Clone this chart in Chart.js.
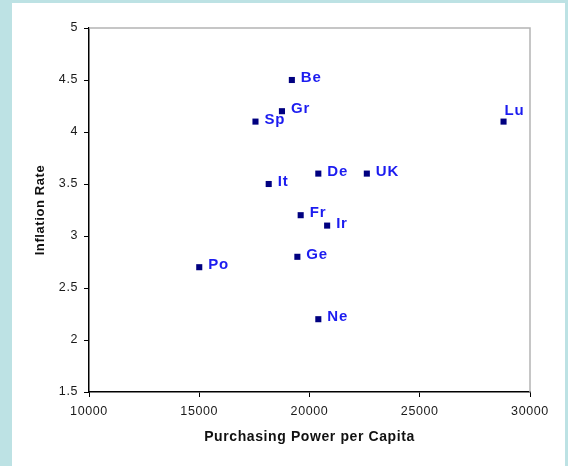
<!DOCTYPE html>
<html>
<head>
<meta charset="utf-8">
<script src="https://cdn.jsdelivr.net/npm/chart.js@4.4.1/dist/chart.umd.min.js"></script>
<style>
  html, body { margin: 0; padding: 0; }
  body { width: 568px; height: 466px; background: #bde2e4; position: relative; overflow: hidden; }
  #panel { position: absolute; left: 12px; top: 3px; width: 553px; height: 463px; background: #fff; }
  #wrap { position: absolute; left: 0; top: 0; width: 568px; height: 466px; }
</style>
</head>
<body>
<div id="panel"></div>
<div id="wrap"><canvas id="chart"></canvas></div>
<script>
// country codes and values
const countries = ["Be", "Gr", "Sp", "It", "De", "UK", "Fr", "Ir", "Ge", "Po", "Ne", "Lu"];
const power = [19200, 18750, 17550, 18150, 20400, 22600, 19600, 20800, 19450, 15000, 20400, 28800];
const inflation = [4.5, 4.2, 4.1, 3.5, 3.6, 3.6, 3.2, 3.1, 2.8, 2.7, 2.2, 4.1];
const xTicks = [10000, 15000, 20000, 25000, 30000];
const yTicks = [1.5, 2, 2.5, 3, 3.5, 4, 4.5, 5];

const points = power.map(function (p, i) { return { x: p, y: inflation[i] }; });

// the old excel text is a bit wide, add some letter spacing
const spacing = {
  id: "spacing",
  beforeLayout(chart) { chart.ctx.letterSpacing = "0.6px"; },
  beforeDraw(chart) { chart.ctx.letterSpacing = "0.6px"; }
};

// gray frame top/right
const frame = {
  id: "frame",
  beforeDatasetsDraw(chart) {
    const a = chart.chartArea;
    const ctx = chart.ctx;
    ctx.save();
    ctx.strokeStyle = "#b4b4b4";
    ctx.lineWidth = 1.5;
    ctx.beginPath();
    ctx.moveTo(a.left, a.top);
    ctx.lineTo(a.right, a.top);
    ctx.lineTo(a.right, a.bottom);
    ctx.stroke();
    ctx.restore();
  }
};

// country names next to the markers
const pointLabels = {
  id: "pointLabels",
  afterDatasetsDraw(chart) {
    const ctx = chart.ctx;
    const meta = chart.getDatasetMeta(0);
    ctx.save();
    ctx.letterSpacing = "0.8px";
    ctx.font = "bold 15px 'Liberation Sans', Arial, sans-serif";
    ctx.fillStyle = "#1c1cf0";
    ctx.textBaseline = "middle";
    meta.data.forEach(function (el, i) {
      let dx = 9, dy = -2;
      if (countries[i] === "Lu") { dx = 1; dy = -11; }
      ctx.fillText(countries[i], el.x + dx, el.y + dy);
    });
    ctx.restore();
  }
};

const fam = "'Liberation Sans', Arial, sans-serif";

new Chart(document.getElementById("chart"), {
  type: "scatter",
  data: {
    datasets: [{
      data: points,
      pointStyle: "rect",
      pointRadius: 4.3,
      pointHoverRadius: 4.3,
      borderWidth: 0,
      backgroundColor: "#000080"
    }]
  },
  options: {
    responsive: true,
    maintainAspectRatio: false,
    animation: false,
    events: [],
    layout: { padding: { left: 29, top: 28, right: 38, bottom: 14 } },
    plugins: { legend: { display: false }, tooltip: { enabled: false } },
    scales: {
      x: {
        type: "linear",
        min: 10000,
        max: 30000,
        afterBuildTicks: function (s) { s.ticks = xTicks.map(function (v) { return { value: v }; }); },
        afterFit: function (s) { s.height = 60; },
        grid: { drawOnChartArea: false, color: "#000", tickLength: 5 },
        border: { color: "#000", width: 1.5 },
        ticks: { color: "#1a1a1a", font: { family: fam, size: 12.5 }, padding: 7, maxRotation: 0,
          callback: function (v) { return String(v); } },
        title: { display: true, text: "Purchasing Power per Capita", color: "#111",
          font: { family: fam, size: 14, weight: "bold" }, padding: { top: 6, bottom: 6 } }
      },
      y: {
        type: "linear",
        min: 1.5,
        max: 5,
        afterBuildTicks: function (s) { s.ticks = yTicks.map(function (v) { return { value: v }; }); },
        afterFit: function (s) { s.width = 60; },
        grid: { drawOnChartArea: false, color: "#000", tickLength: 5 },
        border: { color: "#000", width: 1.5 },
        ticks: { color: "#1a1a1a", font: { family: fam, size: 12.5 }, padding: 6,
          callback: function (v) { return String(v); } },
        title: { display: true, text: "Inflation Rate", color: "#111",
          font: { family: fam, size: 13, weight: "bold" }, padding: { top: 4, bottom: 4 } }
      }
    }
  },
  plugins: [spacing, frame, pointLabels]
});
</script>
</body>
</html>
